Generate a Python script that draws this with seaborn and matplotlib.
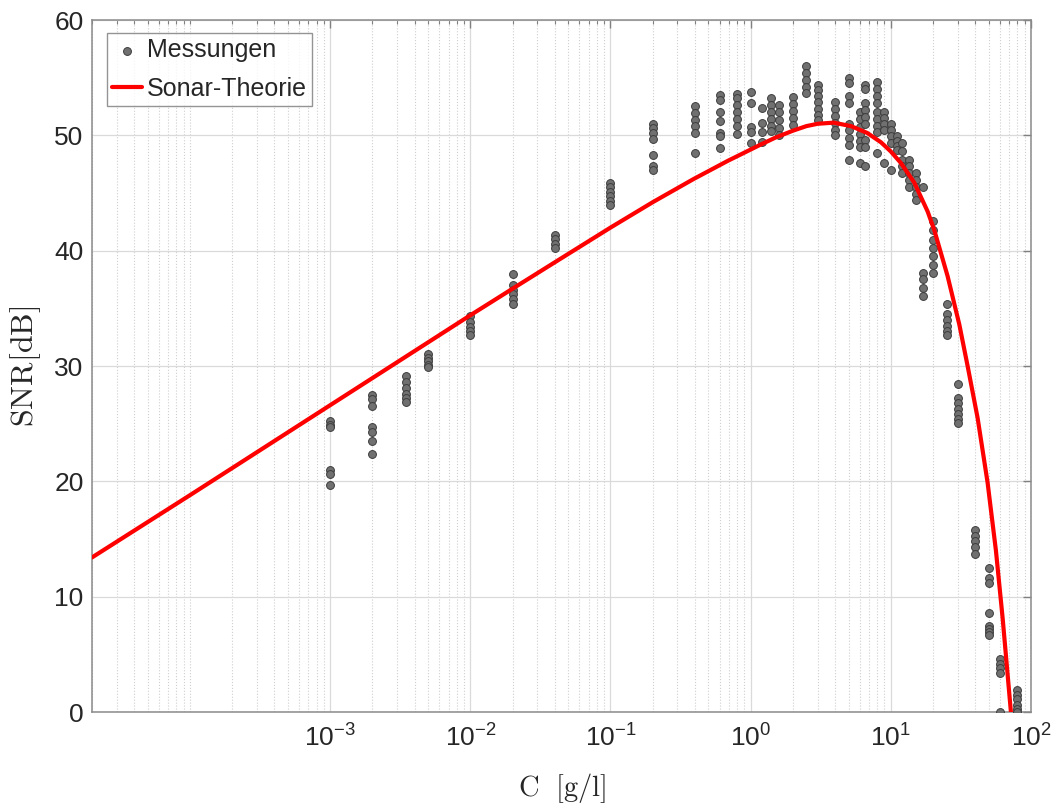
import matplotlib
matplotlib.use('Agg')
import matplotlib.pyplot as plt
from matplotlib.ticker import LogLocator, NullLocator, NullFormatter
import numpy as np
import pandas as pd
import seaborn as sns

meas_conc = [1e-3, 2e-3, 3.5e-3, 5e-3, 1e-2, 2e-2, 4e-2, 1e-1, 2e-1, 4e-1,
             6e-1, 8e-1, 1.0, 1.2, 1.4, 1.6, 2.0, 2.5, 3.0, 4.0,
             5.0, 6.0, 6.5, 8.0, 9.0, 10.0, 11.0, 12.0, 13.5, 15.0,
             17.0, 20.0, 25.0, 30.0, 40.0, 50.0, 60.0, 80.0]
meas_snr = [
    [25.2, 24.9, 24.7, 21.0, 20.6, 19.7],
    [27.5, 27.1, 26.5, 24.7, 24.3, 23.5, 22.4],
    [29.1, 28.6, 28.1, 27.6, 27.2, 26.9],
    [31.0, 30.7, 30.4, 30.1, 29.9],
    [34.3, 33.8, 33.4, 33.0, 32.7],
    [38.0, 37.0, 36.6, 36.2, 35.8, 35.4],
    [41.4, 41.0, 40.6, 40.2],
    [45.9, 45.5, 45.1, 44.7, 44.3, 44.0],
    [51.0, 50.6, 50.2, 49.7, 48.3, 47.3, 47.0],
    [52.5, 51.9, 51.3, 50.8, 50.2, 48.5],
    [53.5, 53.1, 52.0, 51.2, 50.2, 49.9, 48.9],
    [53.6, 53.2, 52.6, 52.0, 51.4, 50.8, 50.1],
    [53.8, 52.8, 50.7, 50.3, 49.3],
    [52.4, 51.1, 50.3, 49.4],
    [53.2, 52.6, 52.0, 51.4, 50.8, 50.4],
    [52.6, 52.0, 51.3, 50.6, 50.0],
    [53.3, 52.7, 52.1, 51.5, 50.9],
    [56.0, 55.4, 54.8, 54.2, 53.7],
    [54.4, 53.9, 53.4, 52.9, 52.3, 51.8, 51.3],
    [52.9, 52.3, 51.7, 51.1, 50.5, 50.0],
    [55.0, 54.5, 53.4, 52.8, 51.0, 50.5, 49.8, 49.2, 47.9],
    [52.0, 51.4, 50.7, 50.1, 49.5, 49.0, 47.6],
    [54.4, 54.0, 52.8, 52.2, 51.6, 51.0, 49.6, 49.0, 47.3],
    [54.6, 54.0, 53.4, 52.8, 52.0, 51.4, 50.8, 50.3, 48.5],
    [52.0, 51.5, 51.0, 50.5, 47.6],
    [51.0, 50.5, 49.9, 49.3, 47.0],
    [49.9, 49.5, 49.1, 48.7],
    [49.3, 48.6, 47.9, 47.3, 46.7],
    [47.9, 47.3, 46.7, 46.1, 45.5],
    [46.7, 46.1, 45.5, 44.9, 44.4],
    [45.5, 38.1, 37.5, 36.8, 36.1],
    [42.6, 41.8, 40.9, 40.2, 39.5, 38.8, 38.1],
    [35.4, 34.5, 34.0, 33.5, 33.0, 32.7],
    [28.4, 27.2, 26.8, 26.3, 25.8, 25.4, 25.1],
    [15.8, 15.3, 14.8, 14.3, 13.7],
    [12.5, 11.6, 11.2, 8.6, 7.5, 7.2, 6.9, 6.7],
    [4.6, 4.2, 3.8, 3.4, 0.0],
    [1.9, 1.5, 1.1, 0.6, 0.3, 0.0],
]

# Sonar theory curve
theory_conc = [2.0e-5, 1.0e-4, 1e-3, 1e-2, 0.02, 0.044, 0.1, 0.2, 0.39, 0.69,
               1.18, 1.5, 2.0, 2.5, 3.0, 3.9, 5.2, 6.8, 8.5, 10.0,
               11.8, 14.7, 18.3, 20.4, 25.4, 30.8, 35.3, 41.6, 49.0, 56.2,
               62.8, 70.0, 71.9]
theory_snr = [13.4, 18.8, 26.6, 34.4, 36.7, 39.3, 42.0, 44.2, 46.2, 47.8,
              49.2, 49.8, 50.4, 50.8, 51.0, 51.1, 50.8, 50.2, 49.4, 48.6,
              47.6, 45.9, 43.4, 41.8, 37.8, 33.6, 30.0, 25.5, 19.9, 14.0,
              8.1, 1.6, 0.0]

x_ticks = [1e-3, 1e-2, 1e-1, 1e0, 1e1, 1e2]
x_tick_labels = [r'$10^{-3}$', r'$10^{-2}$', r'$10^{-1}$', r'$10^{0}$', r'$10^{1}$', r'$10^{2}$']
y_ticks = [0, 10, 20, 30, 40, 50, 60]

# long-form tables for seaborn
meas = pd.DataFrame({
    'C': [c for c, vals in zip(meas_conc, meas_snr) for _ in vals],
    'SNR': [v for vals in meas_snr for v in vals],
})
theory = pd.DataFrame({'C': theory_conc, 'SNR': theory_snr})

sns.set_theme(style='white')
plt.rcParams['font.family'] = ['Liberation Sans', 'DejaVu Sans']
plt.rcParams['mathtext.fontset'] = 'cm'        # axis labels look like MATLAB's LaTeX
plt.rcParams['mathtext.default'] = 'regular'   # tick exponents stay in the sans font

fig = plt.figure(figsize=(10.59, 8.05), dpi=100)
ax = fig.add_axes([92 / 1059, 1 - 712 / 805, (1031 - 92) / 1059, (712 - 20) / 805])

# Measurements first, theory line drawn on top
sns.scatterplot(data=meas, x='C', y='SNR', ax=ax, s=32, color='#707070',
                edgecolor='#3c3c3c', linewidth=0.7, label='Messungen', zorder=3)
sns.lineplot(data=theory, x='C', y='SNR', ax=ax, color='red', linewidth=3.0,
             label='Sonar-Theorie', zorder=4)

ax.set_xscale('log')
ax.set_xlim(2e-5, 1e2)
ax.set_ylim(0, 60)
ax.set_xticks(x_ticks)
ax.set_xticklabels(x_tick_labels)
ax.xaxis.set_minor_locator(LogLocator(base=10, subs=np.arange(1, 10), numticks=30))
ax.xaxis.set_minor_formatter(NullFormatter())
ax.set_yticks(y_ticks)
ax.yaxis.set_minor_locator(NullLocator())

# MATLAB-ish grid: solid majors, dotted x minors
ax.grid(which='major', color='#dadada', linewidth=0.9, linestyle='-')
ax.grid(which='minor', axis='x', color='#cfcfcf', linewidth=0.8, linestyle=':')
ax.set_axisbelow(True)

ax.tick_params(which='both', direction='in', top=True, right=True,
               colors='#808080', labelcolor='#262626')
ax.tick_params(which='major', length=6, width=1, labelsize=19)
ax.tick_params(which='minor', length=3, width=0.8)
ax.tick_params(axis='x', which='major', pad=9)
ax.tick_params(axis='y', which='major', pad=6)
for sp in ax.spines.values():
    sp.set_color('#8a8a8a')
    sp.set_linewidth(1.1)

ax.set_xlabel(r'$\mathrm{C\ \ [g/l]}$', fontsize=20.5, color='#262626', labelpad=14)
ax.set_ylabel(r'$\mathrm{SNR[dB]}$', fontsize=23, color='#262626', labelpad=8)

leg = ax.legend(loc='upper left', bbox_to_anchor=(0.016, 0.981), fontsize=18,
                frameon=True, fancybox=False, edgecolor='#7a7a7a',
                handlelength=1.2, handletextpad=0.2, borderpad=0.2,
                labelspacing=0.6, borderaxespad=0)
leg.get_frame().set_linewidth(1.0)

fig.savefig('out.png', dpi=100, facecolor='white')
